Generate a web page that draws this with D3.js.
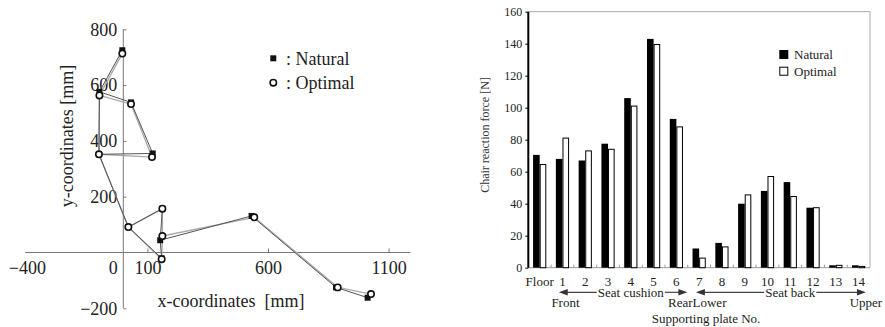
<!DOCTYPE html>
<html>
<head>
<meta charset="utf-8">
<script src="https://cdn.jsdelivr.net/npm/d3@7"></script>
<style>
  body { margin: 0; background: #fff; }
  svg { display: block; }
  svg text { font-family: "Liberation Serif", "DejaVu Serif", serif; }
</style>
</head>
<body>
<svg id="chart" width="885" height="327" font-family="Liberation Serif, DejaVu Serif, serif"></svg>
<script>
// posture joints [mm]
const naturalX = [-4, -99, 32, 122, -101, 21, 159, 162, 153, 532, 882, 1013];
const naturalY = [725, 576, 538, 355, 352, 91, -21, 157, 44, 131, -125, -162];
const optimalX = [-4, -99, 32, 119, -101, 21, 159, 162, 162, 543, 889, 1027];
const optimalY = [713, 563, 532, 342, 352, 91, -24, 157, 59, 126, -125, -149];
const links = [[0, 1], [1, 2], [2, 3], [3, 4], [1, 4], [4, 5], [5, 6], [6, 8], [8, 7], [5, 7], [8, 9], [9, 10], [10, 11]];
const xTicks = [-400, 0, 100, 600, 1100];
const yTicks = [-200, 200, 400, 600, 800];

// chair reaction force [N]
const plates = ['Floor', '1', '2', '3', '4', '5', '6', '7', '8', '9', '10', '11', '12', '13', '14'];
const naturalForce = [70.5, 68, 67, 77.5, 106, 143, 93, 12, 15.5, 40, 48, 53.5, 37.5, 1.5, 1.5];
const optimalForce = [64.5, 81, 73, 74, 101, 139.5, 88, 6, 13, 45.5, 57, 44.5, 37.5, 1.5, 0.8];
const forceTicks = [0, 20, 40, 60, 80, 100, 120, 140, 160];

const serif = 'Liberation Serif, DejaVu Serif, serif';
const svg = d3.select('#chart');

// ---------- left: posture plot
const x = d3.scaleLinear().domain([0, 1100]).range([123.3, 388.6]);
const y = d3.scaleLinear().domain([-200, 800]).range([308.3, 29.3]);
const left = svg.append('g');

// axes
left.append('line')
    .attr('x1', x(-407)).attr('x2', x(1190)).attr('y1', y(0)).attr('y2', y(0))
    .attr('stroke', '#777');
left.append('line')
    .attr('x1', x(0)).attr('x2', x(0)).attr('y1', y(800)).attr('y2', y(-200))
    .attr('stroke', '#777');

const xAxis = left.append('g')
    .attr('transform', `translate(0, ${y(0)})`)
    .call(d3.axisBottom(x).tickValues(xTicks).tickFormat(d3.format('d'))
        .tickSizeInner(-4).tickSizeOuter(0).tickPadding(9));
xAxis.select('.domain').remove();
xAxis.selectAll('.tick').filter(d => d <= 0).select('line').remove();
xAxis.selectAll('.tick').filter(d => d === 0).select('text').attr('text-anchor', 'end').attr('x', -6);

const yAxis = left.append('g')
    .attr('transform', `translate(${x(0)}, 0)`)
    .call(d3.axisLeft(y).tickValues(yTicks).tickFormat(d3.format('d'))
        .tickSizeInner(-3).tickSizeOuter(0).tickPadding(6));
yAxis.select('.domain').remove();

left.selectAll('.tick line').attr('stroke', '#777');
left.selectAll('.tick text').attr('fill', '#222');
[xAxis, yAxis].forEach(g => g.attr('font-size', 18).attr('font-family', serif));

// skeleton lines
function drawLinks(xs, ys, color, width) {
    left.append('g').selectAll('line').data(links).join('line')
        .attr('x1', d => x(xs[d[0]])).attr('y1', d => y(ys[d[0]]))
        .attr('x2', d => x(xs[d[1]])).attr('y2', d => y(ys[d[1]]))
        .attr('stroke', color).attr('stroke-width', width);
}
drawLinks(optimalX, optimalY, '#aaa', 1.4);
drawLinks(naturalX, naturalY, '#555', 1);

left.append('g').selectAll('rect').data(naturalX).join('rect')
    .attr('x', d => x(d) - 3).attr('y', (d, i) => y(naturalY[i]) - 3)
    .attr('width', 6).attr('height', 6).attr('fill', '#111');
left.append('g').selectAll('circle').data(optimalX).join('circle')
    .attr('cx', d => x(d)).attr('cy', (d, i) => y(optimalY[i])).attr('r', 3.2)
    .attr('fill', '#fff').attr('stroke', '#111').attr('stroke-width', 1.6);

// legend
left.append('rect').attr('x', 270.3).attr('y', 55.3).attr('width', 6).attr('height', 6).attr('fill', '#111');
left.append('circle').attr('cx', 273.3).attr('cy', 82.7).attr('r', 3.2)
    .attr('fill', '#fff').attr('stroke', '#111').attr('stroke-width', 1.6);
left.append('text').attr('x', 286).attr('y', 58.3).attr('dy', '0.35em')
    .attr('font-size', 18).attr('fill', '#222').text(': Natural');
left.append('text').attr('x', 286).attr('y', 82.7).attr('dy', '0.35em')
    .attr('font-size', 18).attr('fill', '#222').text(': Optimal');

// titles
left.append('text').attr('x', 231).attr('y', 306.5).attr('text-anchor', 'middle')
    .attr('font-size', 18).attr('fill', '#222').style('white-space', 'pre')
    .text('x-coordinates  [mm]');
left.append('text').attr('transform', 'translate(73, 136) rotate(-90)').attr('text-anchor', 'middle')
    .attr('font-size', 18).attr('fill', '#222').text('y-coordinates [mm]');

// ---------- right: bar chart
const xb = d3.scaleBand().domain(plates).range([528.3, 870]).paddingInner(0.42).paddingOuter(0.21);
const xs = d3.scaleBand().domain(['natural', 'optimal']).range([0, xb.bandwidth()]);
const yb = d3.scaleLinear().domain([0, 160]).range([267.7, 11.7]);
const right = svg.append('g');
const mid = p => xb(p) + xb.bandwidth() / 2;

// frame
right.append('line').attr('x1', 528.3).attr('x2', 870).attr('y1', yb(160)).attr('y2', yb(160)).attr('stroke', '#aaa');
right.append('line').attr('x1', 870).attr('x2', 870).attr('y1', yb(160)).attr('y2', yb(0)).attr('stroke', '#aaa');
right.append('line').attr('x1', 528.3).attr('x2', 870).attr('y1', yb(0)).attr('y2', yb(0)).attr('stroke', '#999');

// minor ticks between plates
right.append('g').selectAll('line').data(plates.slice(1)).join('line')
    .attr('x1', p => xb(p) - xb.step() * 0.21).attr('x2', p => xb(p) - xb.step() * 0.21)
    .attr('y1', yb(0)).attr('y2', yb(0) - 3).attr('stroke', '#999');

// bars
const groups = right.append('g').selectAll('g').data(plates).join('g')
    .attr('transform', p => `translate(${xb(p)}, 0)`);
groups.append('rect')
    .attr('x', xs('natural')).attr('width', xs.bandwidth())
    .attr('y', (p, i) => yb(naturalForce[i])).attr('height', (p, i) => yb(0) - yb(naturalForce[i]))
    .attr('fill', '#000');
groups.append('rect')
    .attr('x', xs('optimal') + 0.5).attr('width', xs.bandwidth() - 1)
    .attr('y', (p, i) => yb(optimalForce[i])).attr('height', (p, i) => yb(0) - yb(optimalForce[i]))
    .attr('fill', '#fff').attr('stroke', '#000').attr('stroke-width', 1);

// y axis
const yAxisB = right.append('g')
    .attr('transform', 'translate(528.3, 0)')
    .call(d3.axisLeft(yb).tickValues(forceTicks).tickSize(3).tickPadding(3))
    .attr('font-size', 12).attr('font-family', serif);
yAxisB.select('.domain').remove();
yAxisB.selectAll('.tick text').attr('fill', '#222');
right.append('line').attr('x1', 528.3).attr('x2', 528.3).attr('y1', yb(160)).attr('y2', yb(0))
    .attr('stroke', '#000').attr('stroke-width', 2);

// x labels
const xAxisB = right.append('g')
    .attr('transform', `translate(0, ${yb(0)})`)
    .call(d3.axisBottom(xb).tickSize(0).tickPadding(9))
    .attr('font-size', 13).attr('font-family', serif);
xAxisB.select('.domain').remove();
xAxisB.selectAll('.tick text').attr('fill', '#222');

// region arrows
const rowY = 292.3;
function arrowHead(tipX, dir) {
    right.append('path')
        .attr('d', `M${tipX},${rowY} L${tipX - dir * 9},${rowY - 3.2} L${tipX - dir * 9},${rowY + 3.2} Z`)
        .attr('fill', '#333');
}
function region(label, cx, x0, x1) {
    const t = right.append('text').attr('x', cx).attr('y', rowY).attr('dy', '0.35em')
        .attr('text-anchor', 'middle').attr('font-size', 13).attr('fill', '#222').text(label);
    const w = t.node().getComputedTextLength();
    right.append('line').attr('x1', x0 + 4).attr('x2', cx - w / 2 - 1).attr('y1', rowY).attr('y2', rowY)
        .attr('stroke', '#444').attr('stroke-width', 1.2);
    right.append('line').attr('x1', cx + w / 2 + 1).attr('x2', x1 - 4).attr('y1', rowY).attr('y2', rowY)
        .attr('stroke', '#444').attr('stroke-width', 1.2);
    arrowHead(x0, -1);
    arrowHead(x1, 1);
}
region('Seat cushion', mid('4'), mid('1') - 3.7, mid('6') + 11);
region('Seat back', mid('11'), mid('7') - 3.3, mid('14') + 7.3);

const row3 = 307;
const endLabel = (txt, xPos, anchor) => right.append('text').attr('x', xPos).attr('y', row3)
    .attr('text-anchor', anchor).attr('font-size', 13).attr('fill', '#222').text(txt);
endLabel('Front', mid('1') + 3, 'middle');
endLabel('Rear', xb('7'), 'end');
endLabel('Lower', xb('7'), 'start');
endLabel('Upper', mid('14') + 7.3, 'middle');

right.append('text').attr('x', 706).attr('y', 322.5).attr('text-anchor', 'middle')
    .attr('font-size', 13).attr('fill', '#222').text('Supporting plate No.');
right.append('text').attr('transform', 'translate(489, 135) rotate(-90)').attr('text-anchor', 'middle')
    .attr('font-size', 12).attr('fill', '#333').text('Chair reaction force [N]');

// legend
right.append('rect').attr('x', 779.3).attr('y', 50).attr('width', 9).attr('height', 9).attr('fill', '#000');
right.append('rect').attr('x', 779.8).attr('y', 67.2).attr('width', 8).attr('height', 8)
    .attr('fill', '#fff').attr('stroke', '#000');
right.append('text').attr('x', 794).attr('y', 54.5).attr('dy', '0.35em')
    .attr('font-size', 13).attr('fill', '#222').text('Natural');
right.append('text').attr('x', 794).attr('y', 71.7).attr('dy', '0.35em')
    .attr('font-size', 13).attr('fill', '#222').text('Optimal');
</script>
</body>
</html>
